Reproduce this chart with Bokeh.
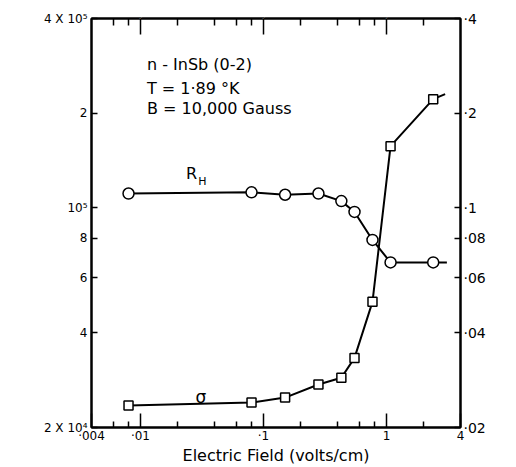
import math
from bokeh.plotting import figure
from bokeh.models import LogAxis, FixedTicker, Range1d, LogScale, Label
from bokeh.embed import file_html
from bokeh.resources import INLINE

# ---------------- data ----------------
field = [0.008, 0.08, 0.15, 0.28, 0.43, 0.55, 0.77, 1.08, 2.4]
hall = [1.11e5, 1.12e5, 1.10e5, 1.11e5, 1.05e5, 0.97e5, 0.79e5, 0.67e5, 0.67e5]
sigma = [0.0235, 0.024, 0.0249, 0.0274, 0.0288, 0.0333, 0.0502, 0.157, 0.2215]
# ends of the drawn curves beyond the last measured point
hall_end_field, hall_end = 3.1, 0.67e5
sigma_end_field, sigma_end = 3.0, 0.23

x_major = [0.004, 0.01, 0.1, 1, 4]
x_minor = [0.006, 0.008, 0.02, 0.04, 0.06, 0.08, 0.2, 0.4, 0.6, 0.8, 2]
x_labels = ["·004", "·01", "·1", "1", "4"]
hall_ticks = [2e4, 4e4, 6e4, 8e4, 1e5, 2e5, 4e5]
hall_labels = ["2 X 10⁴", "4", "6", "8", "10⁵", "2", "4 X 10⁵"]
sig_ticks = [0.02, 0.04, 0.06, 0.08, 0.1, 0.2, 0.4]
sig_labels = ["·02", "·04", "·06", "·08", "·1", "·2", "·4"]

FONT = "DejaVu Sans"

p = figure(width=516, height=467, x_axis_type="log", y_axis_type="log",
           x_range=Range1d(0.004, 4), y_range=Range1d(2e4, 4e5),
           x_axis_location=None, y_axis_location=None,
           output_backend="svg", toolbar_location=None,
           min_border_left=91, min_border_right=56, min_border_top=18, min_border_bottom=39)
p.xgrid.visible = False
p.ygrid.visible = False
p.outline_line_color = "black"
p.outline_line_width = 2
p.extra_y_ranges = {"s": Range1d(0.02, 0.4)}
p.extra_y_scales = {"s": LogScale()}


def style(ax):
    ax.major_tick_out = 0
    ax.minor_tick_out = 0
    ax.axis_line_width = 2
    ax.major_tick_line_color = "black"
    ax.minor_tick_line_color = "black"
    ax.major_tick_line_width = 1.5
    ax.minor_tick_line_width = 1.5
    ax.major_label_text_font = FONT
    ax.axis_label_text_font = FONT
    ax.axis_label_text_font_style = "normal"
    ax.major_label_text_color = "black"
    ax.axis_label_text_color = "black"
    return ax

# bottom axis
bx = style(LogAxis(ticker=FixedTicker(ticks=x_major, minor_ticks=x_minor),
                   major_label_overrides={float(t): l for t, l in zip(x_major, x_labels)},
                   axis_label="Electric Field (volts/cm)"))
bx.major_tick_in = 14
bx.minor_tick_in = 6
bx.major_label_text_font_size = "12px"
bx.axis_label_text_font_size = "16px"
bx.major_label_standoff = 1
bx.axis_label_standoff = 0
p.add_layout(bx, "below")

# top axis (ticks only)
tx = style(LogAxis(ticker=FixedTicker(ticks=[0.01, 0.1, 1], minor_ticks=x_minor)))
tx.major_tick_in = 16
tx.minor_tick_in = 7
tx.major_label_text_font_size = "1px"
tx.major_label_text_color = "white"
tx.major_label_standoff = 0
p.add_layout(tx, "above")

# left axis (tick labels; the title is a rotated label below)
ly = style(LogAxis(ticker=FixedTicker(ticks=hall_ticks),
                   major_label_overrides={float(t): l for t, l in zip(hall_ticks, hall_labels)}))
ly.major_tick_in = 6
ly.major_label_text_font_size = "12px"
ly.major_label_standoff = 4
p.add_layout(ly, "left")

# right axis
ry = style(LogAxis(y_range_name="s", ticker=FixedTicker(ticks=sig_ticks),
                   major_label_overrides={float(t): l for t, l in zip(sig_ticks, sig_labels)}))
ry.major_tick_in = 6
ry.major_label_text_font_size = "14px"
ry.major_label_standoff = 3
p.add_layout(ry, "right")

# curves
p.line(field + [hall_end_field], hall + [hall_end], line_color="black", line_width=2)
p.line(field + [sigma_end_field], sigma + [sigma_end], line_color="black", line_width=2,
       y_range_name="s")
p.scatter(field, hall, marker="circle", size=11, fill_color="white",
          line_color="black", line_width=1.5)
p.scatter(field, sigma, marker="square", size=9, fill_color="white",
          line_color="black", line_width=1.5, y_range_name="s")

# vertical axis titles
p.add_layout(Label(x=0.00116, y=8.64e4, text="Hall Coefficient (coul⁻¹cm³)", angle=math.pi / 2,
                   text_font=FONT, text_font_size="19px", text_align="center",
                   text_baseline="middle", text_color="black"))
p.add_layout(Label(x=9.3, y=9.28e4, text="Conductivity (Ω⁻¹cm⁻¹)", angle=math.pi / 2,
                   text_font=FONT, text_font_size="18px", text_align="center",
                   text_baseline="middle", text_color="black"))

# annotations
for txt, yv in [("n - InSb (0-2)", 3.06e5), ("T = 1·89 °K", 2.56e5), ("B = 10,000 Gauss", 2.22e5)]:
    p.add_layout(Label(x=0.0113, y=yv, text=txt, text_font=FONT, text_font_size="16px",
                       text_baseline="top", text_color="black"))
p.add_layout(Label(x=0.0235, y=1.38e5, text="R", text_font=FONT, text_font_size="16px",
                   text_baseline="top", text_color="black"))
p.add_layout(Label(x=0.0295, y=1.27e5, text="H", text_font=FONT, text_font_size="11px",
                   text_baseline="top", text_color="black"))
p.add_layout(Label(x=0.028, y=2.5e4, text="σ", text_font=FONT, text_font_size="17px",
                   text_baseline="alphabetic", text_color="black"))

open("out.html", "w").write(file_html(p, INLINE))
